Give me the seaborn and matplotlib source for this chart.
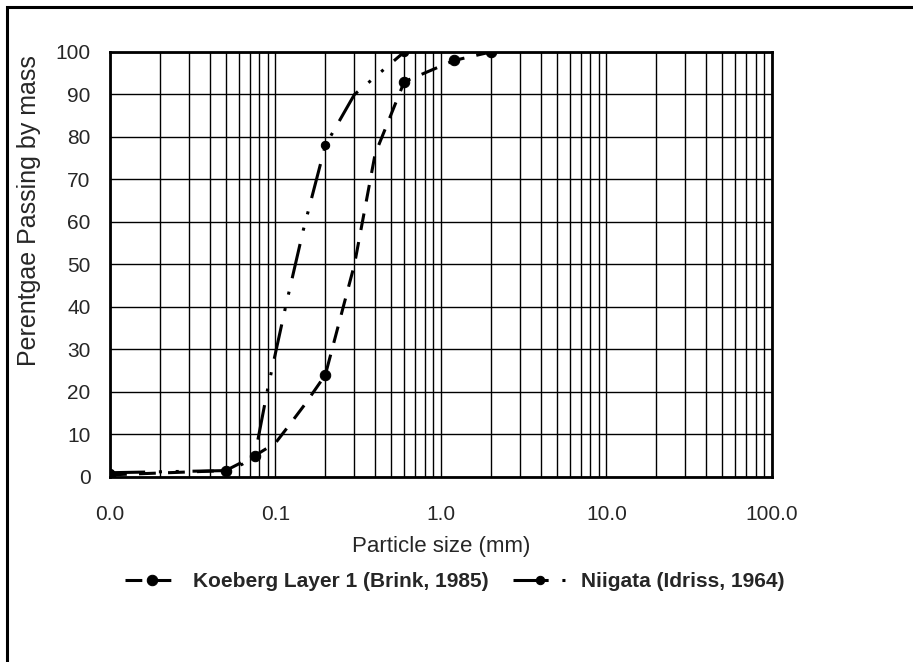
import matplotlib
matplotlib.use("Agg")
import matplotlib.pyplot as plt
import matplotlib.ticker as mticker
from matplotlib.patches import Rectangle
import seaborn as sns

### data ###
# sieve points (with markers) plus a few points
koeberg_size = [0.01, 0.05, 0.075, 0.1, 0.12, 0.15, 0.2, 0.3, 0.4, 0.6, 1.2, 2.0]
koeberg_pass = [0.5, 1.5, 5, 8, 12, 17, 24, 50, 76, 93, 98, 100]
koeberg_marked = [0, 1, 2, 6, 9, 10, 11]

niigata_size = [0.01, 0.05, 0.063, 0.075, 0.09, 0.115, 0.147, 0.2, 0.3, 0.37, 0.6]
niigata_pass = [1, 1.5, 3, 5, 21, 40, 58, 78, 90, 93, 100]
niigata_marked = [0, 1, 3, 7, 10]

x_ticks = [0.01, 0.1, 1, 10, 100]
x_tick_labels = ["0.0", "0.1", "1.0", "10.0", "100.0"]
y_ticks = list(range(0, 101, 10))

### style ###
sns.set_style("white")
plt.rcParams["font.family"] = ["Liberation Sans", "DejaVu Sans"]

fig = plt.figure(figsize=(9.13, 6.62), dpi=100)
ax = fig.add_axes([0.1205, 0.2795, 0.725, 0.642])

sns.lineplot(x=koeberg_size, y=koeberg_pass, ax=ax, color="black",
             linewidth=2.2, linestyle=(0, (5.5, 4)), marker="o",
             markersize=7.5, markeredgecolor="black", markevery=koeberg_marked,
             sort=False, estimator=None, label="Koeberg Layer 1 (Brink, 1985)")
sns.lineplot(x=niigata_size, y=niigata_pass, ax=ax, color="black",
             linewidth=2.2, linestyle=(0, (11.5, 4.5, 1, 4.5, 1, 4.5)),
             marker="o", markersize=6, markeredgecolor="black",
             markevery=niigata_marked, sort=False, estimator=None,
             label="Niigata (Idriss, 1964)")

ax.set_xscale("log")
ax.set_xlim(0.01, 100)
ax.set_ylim(0, 100)
ax.set_xticks(x_ticks)
ax.set_xticklabels(x_tick_labels)
ax.xaxis.set_minor_locator(mticker.LogLocator(base=10, subs=range(2, 10)))
ax.xaxis.set_minor_formatter(mticker.NullFormatter())
ax.set_yticks(y_ticks)

# grid
ax.grid(True, which="both", axis="x", color="black", linewidth=1)
ax.grid(True, which="major", axis="y", color="black", linewidth=1)
ax.set_axisbelow(True)
for s in ax.spines.values():
    s.set_color("black")
    s.set_linewidth(2)

ax.tick_params(axis="both", which="both", length=0, labelsize=15)
ax.tick_params(axis="y", pad=14)
ax.tick_params(axis="x", pad=20)

ax.set_xlabel("Particle size (mm)", fontsize=16, labelpad=9)
ax.set_ylabel("Perentgae Passing by mass", fontsize=18)
ax.yaxis.set_label_coords(-0.104, 0.628)

# legend below the axes
ax.legend(loc="center", bbox_to_anchor=(0.498, 0.121),
          bbox_transform=fig.transFigure, ncol=2, frameon=False,
          prop={"weight": "bold", "size": 15}, handlelength=2.6,
          columnspacing=1.2, handletextpad=0.65)

# outer frame (left and top edges visible)
fig.patches.append(Rectangle((0.0077, -0.5), 1.5, 1.4894, transform=fig.transFigure,
                             fill=False, edgecolor="black", linewidth=2.2,
                             figure=fig))

fig.savefig("out.png", dpi=100)
